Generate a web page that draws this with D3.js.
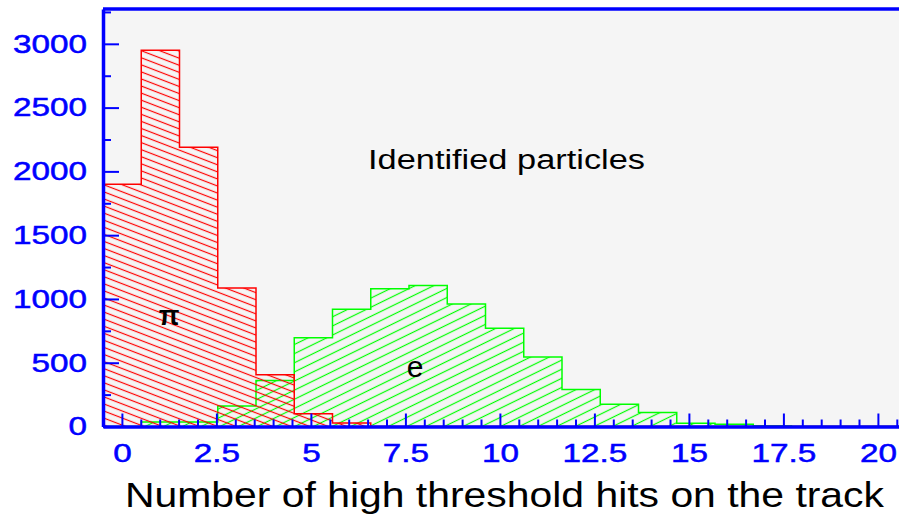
<!DOCTYPE html>
<html>
<head>
<meta charset="utf-8">
<script src="https://cdn.jsdelivr.net/npm/d3@7"></script>
<style>
  html, body { margin: 0; padding: 0; background: #ffffff; }
  svg { display: block; }
  text { font-family: "Liberation Sans", Arial, Helvetica, sans-serif; }
</style>
</head>
<body>
<svg id="chart" width="899" height="517"></svg>
<script>
// Histogram binning: 21 bins spanning [-0.5, 20.75]
const binLo = -0.5;
const binHi = 20.75;
const nBins = 21;

// Entries per bin for identified pions and electrons
const piCounts = [1900, 2950, 2190, 1085, 405, 100, 28, 0, 0, 0, 0, 0, 0, 0, 0, 0, 0, 0, 0, 0, 0];
const eCounts  = [0, 35, 35, 160, 360, 695, 920, 1080, 1105, 960, 770, 545, 290, 175, 110, 25, 17, 6, 0, 0, 0];

// Axis tick values and labels
const xMajorTicks = [0, 2.5, 5, 7.5, 10, 12.5, 15, 17.5, 20];
const xMinorTicks = [0.5, 1, 1.5, 2, 3, 3.5, 4, 4.5, 5.5, 6, 6.5, 7, 8, 8.5, 9, 9.5, 10.5, 11, 11.5, 12,
                     13, 13.5, 14, 14.5, 15.5, 16, 16.5, 17, 18, 18.5, 19, 19.5, 20.5];
const xTickLabels = ["0", "2.5", "5", "7.5", "10", "12.5", "15", "17.5", "20"];
const yMajorTicks = [0, 500, 1000, 1500, 2000, 2500, 3000];
const yMinorTicks = [250, 750, 1250, 1750, 2250, 2750, 3250];
const yTickLabels = ["0", "500", "1000", "1500", "2000", "2500", "3000"];
const yMax = 3273;

const xTitle = "Number of high threshold hits on the track";
const plotTitle = "Identified particles";

const svg = d3.select("#chart");
const W = 899, H = 517;
const frameLeft = 103, frameTop = 9, frameBottom = 426.5;
const pxPerUnit = 37.8;

const x = d3.scaleLinear().domain([binLo, binHi]).range([frameLeft, frameLeft + (binHi - binLo) * pxPerUnit]);
const y = d3.scaleLinear().domain([0, yMax]).range([frameBottom, frameTop]);

const blue = "#0000ff";

// Plot frame background
svg.append("rect")
  .attr("x", frameLeft).attr("y", frameTop)
  .attr("width", W - frameLeft).attr("height", frameBottom - frameTop)
  .attr("fill", "#f5f5f5");

// Hatch patterns
const defs = svg.append("defs");
function hatch(id, color, angle, gap) {
  const p = defs.append("pattern")
    .attr("id", id)
    .attr("patternUnits", "userSpaceOnUse")
    .attr("width", 20).attr("height", gap)
    .attr("patternTransform", `rotate(${angle})`);
  p.append("line")
    .attr("x1", 0).attr("x2", 20)
    .attr("y1", gap / 2).attr("y2", gap / 2)
    .attr("stroke", color).attr("stroke-width", 1.2);
}
hatch("hatchPi", "#ff0000", 21, 6.6);
hatch("hatchE", "#00ff00", -26, 8.2);

// Step outline of a histogram
const binWidth = (binHi - binLo) / nBins;
function stepPoints(counts) {
  const pts = [[binLo, 0]];
  counts.forEach((c, k) => {
    pts.push([binLo + k * binWidth, c]);
    pts.push([binLo + (k + 1) * binWidth, c]);
  });
  pts.push([binLo + counts.length * binWidth, 0]);
  return pts;
}
const line = d3.line().x(d => x(d[0])).y(d => y(d[1]));

function drawHist(counts, fillId, color) {
  const pts = stepPoints(counts);
  svg.append("path")
    .attr("d", line(pts) + "Z")
    .attr("fill", `url(#${fillId})`)
    .attr("stroke", "none");
  svg.append("path")
    .attr("d", line(pts))
    .attr("fill", "none")
    .attr("stroke", color)
    .attr("stroke-width", 1.5);
}
drawHist(eCounts, "hatchE", "#00ff00");
drawHist(piCounts, "hatchPi", "#ff0000");

// Stretch a text element horizontally to the wide face used on this plot
function widen(sel, factor) {
  sel.each(function () {
    const len = this.getComputedTextLength();
    d3.select(this).attr("textLength", len * factor).attr("lengthAdjust", "spacingAndGlyphs");
  });
}

// Y axis
const yAxis = svg.append("g").attr("transform", `translate(${frameLeft},0)`)
  .call(d3.axisLeft(y).tickValues(yMajorTicks).tickSize(-16).tickSizeOuter(0).tickPadding(16)
    .tickFormat((d, i) => yTickLabels[i]));
svg.append("g").attr("transform", `translate(${frameLeft},0)`)
  .call(d3.axisLeft(y).tickValues(yMinorTicks).tickSize(-8).tickSizeOuter(0).tickFormat(""))
  .call(g => g.select(".domain").remove())
  .selectAll("line").attr("stroke", blue).attr("stroke-width", 2);
yAxis.select(".domain").attr("stroke", blue).attr("stroke-width", 3.5);
yAxis.selectAll(".tick line").attr("stroke", blue).attr("stroke-width", 2);
yAxis.selectAll(".tick text")
  .attr("fill", blue).attr("font-size", 26).attr("font-weight", "normal")
  .attr("stroke", blue).attr("stroke-width", 0.5)
  .attr("font-family", "Liberation Sans, Arial, sans-serif")
  .call(widen, 1.28);

// X axis
const xAxis = svg.append("g").attr("transform", `translate(0,${frameBottom})`)
  .call(d3.axisBottom(x).tickValues(xMajorTicks).tickSize(-13).tickSizeOuter(0).tickPadding(17)
    .tickFormat((d, i) => xTickLabels[i]));
svg.append("g").attr("transform", `translate(0,${frameBottom})`)
  .call(d3.axisBottom(x).tickValues(xMinorTicks).tickSize(-7).tickSizeOuter(0).tickFormat(""))
  .call(g => g.select(".domain").remove())
  .selectAll("line").attr("stroke", blue).attr("stroke-width", 2);
xAxis.select(".domain").attr("stroke", blue).attr("stroke-width", 3.5);
xAxis.selectAll(".tick line").attr("stroke", blue).attr("stroke-width", 2);
xAxis.selectAll(".tick text")
  .attr("fill", blue).attr("font-size", 26).attr("font-weight", "normal")
  .attr("stroke", blue).attr("stroke-width", 0.5)
  .attr("font-family", "Liberation Sans, Arial, sans-serif")
  .call(widen, 1.28);

// Top frame line
svg.append("line")
  .attr("x1", frameLeft).attr("x2", x.range()[1])
  .attr("y1", y(yMax)).attr("y2", y(yMax))
  .attr("stroke", blue).attr("stroke-width", 3.5);

// Labels
svg.append("text")
  .attr("x", 125).attr("y", 507)
  .attr("font-size", 35).attr("fill", "#000")
  .attr("textLength", 759).attr("lengthAdjust", "spacingAndGlyphs")
  .text(xTitle);

svg.append("text")
  .attr("x", 368).attr("y", 169)
  .attr("font-size", 27).attr("fill", "#000")
  .attr("textLength", 277).attr("lengthAdjust", "spacingAndGlyphs")
  .text(plotTitle);

svg.append("text")
  .attr("x", 169).attr("y", 325)
  .attr("text-anchor", "middle")
  .attr("font-size", 27).attr("font-weight", "bold")
  .attr("font-family", "Liberation Serif, serif")
  .attr("fill", "#000")
  .text("π");

svg.append("text")
  .attr("x", 415).attr("y", 377)
  .attr("text-anchor", "middle")
  .attr("font-size", 30).attr("fill", "#000")
  .text("e");
</script>
</body>
</html>
